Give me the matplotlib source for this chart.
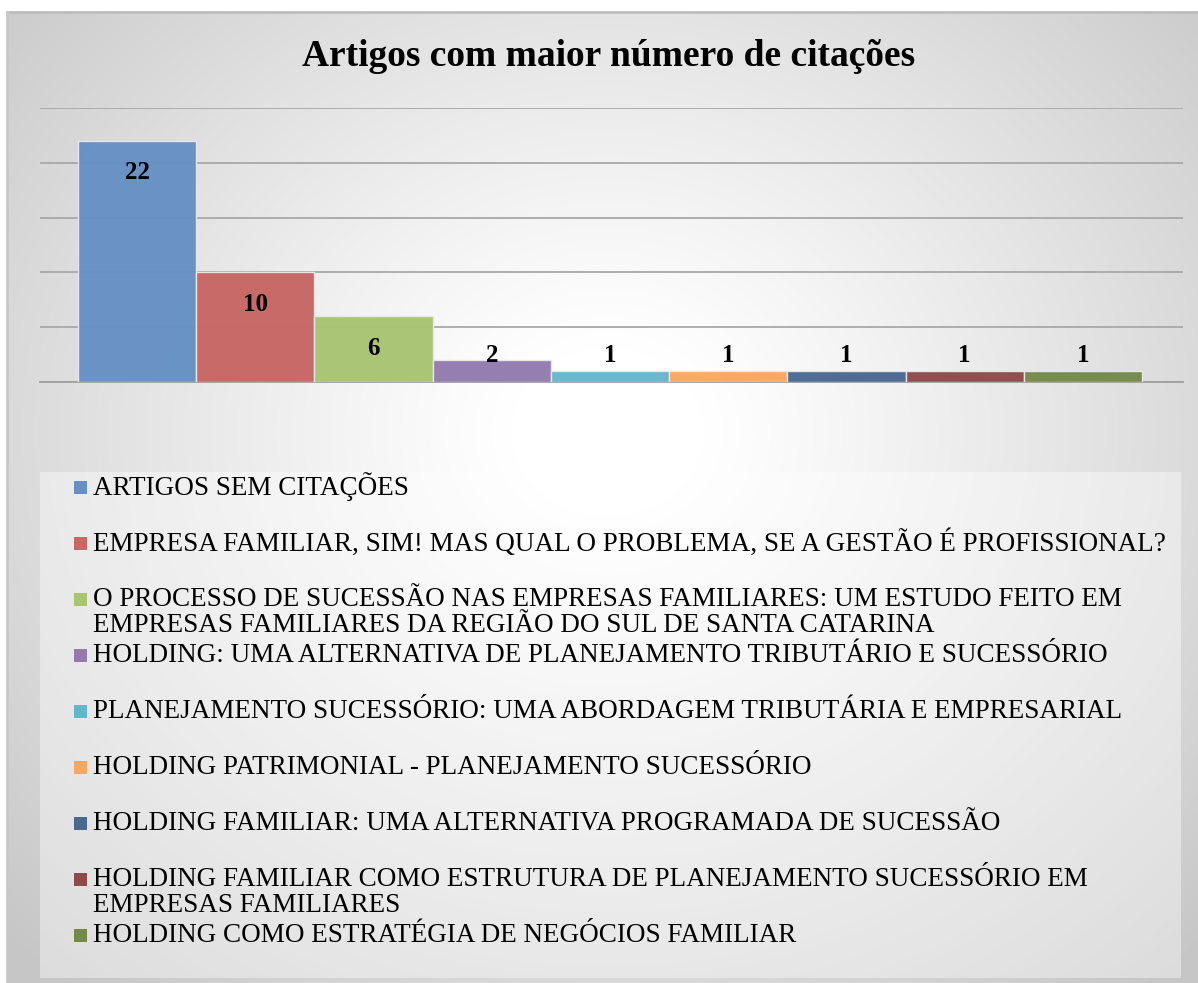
import numpy as np
import matplotlib
matplotlib.use("Agg")
import matplotlib.pyplot as plt
from matplotlib.patches import Rectangle

title = "Artigos com maior número de citações"
series = [
    "ARTIGOS SEM CITAÇÕES",
    "EMPRESA FAMILIAR, SIM! MAS QUAL O PROBLEMA, SE A GESTÃO É PROFISSIONAL?",
    "O PROCESSO DE SUCESSÃO NAS EMPRESAS FAMILIARES: UM ESTUDO FEITO EM\nEMPRESAS FAMILIARES DA REGIÃO DO SUL DE SANTA CATARINA",
    "HOLDING: UMA ALTERNATIVA DE PLANEJAMENTO TRIBUTÁRIO E SUCESSÓRIO",
    "PLANEJAMENTO SUCESSÓRIO: UMA ABORDAGEM TRIBUTÁRIA E EMPRESARIAL",
    "HOLDING PATRIMONIAL - PLANEJAMENTO SUCESSÓRIO",
    "HOLDING FAMILIAR: UMA ALTERNATIVA PROGRAMADA DE SUCESSÃO",
    "HOLDING FAMILIAR COMO ESTRUTURA DE PLANEJAMENTO SUCESSÓRIO EM\nEMPRESAS FAMILIARES",
    "HOLDING COMO ESTRATÉGIA DE NEGÓCIOS FAMILIAR",
]
values = [22, 10, 6, 2, 1, 1, 1, 1, 1]
colors = ["#6690C4", "#C76663", "#A9C473", "#927AAE", "#65B6CD",
          "#F8A762", "#4A6890", "#8E4A4A", "#748A49"]

W, H = 1198, 983
fig = plt.figure(figsize=(W / 100, H / 100), dpi=100)
fig.patch.set_facecolor("white")

def fx(px):
    return px / W

def fy(py):
    return 1 - py / H

# background radial gradient (chart area)
bg = fig.add_axes([fx(7), 0, 1 - fx(7), fy(12)], zorder=0)
yy, xx = np.mgrid[0:971, 0:1191]
cx, cy = 600, 420
r = np.sqrt(((xx - cx) / 640.0) ** 2 + ((yy - cy) / 560.0) ** 2)
val = 1.0 - 0.2 * np.clip((r - 0.15) / 1.05, 0, 1.1) ** 1.1
img = np.dstack([val, val, val])
bg.imshow(img, aspect="auto", extent=[0, 1, 0, 1], origin="upper", interpolation="bilinear")
bg.set_xlim(0, 1); bg.set_ylim(0, 1)
bg.axis("off")
bg.plot([0, 1], [1, 1], color="#bdbdbd", lw=2, transform=bg.transAxes, clip_on=False)
bg.plot([0, 0], [0, 1], color="#c8c8c8", lw=2, transform=bg.transAxes, clip_on=False)

# plot area
ax = fig.add_axes([fx(40), fy(382), fx(1183) - fx(40), fy(108) - fy(382)], zorder=2)
ax.patch.set_alpha(0)
n = len(values)
x = np.arange(n)
ax.bar(x, values, width=1.0, color=colors, edgecolor="#e8e8e8", linewidth=1.0, zorder=3, alpha=0.97)
ax.set_xlim(-0.5 - 38 / 118.2, n - 0.5 + 41 / 118.2)
ax.set_ylim(0, 25)
ax.set_yticks([0, 5, 10, 15, 20, 25])
ax.yaxis.grid(True, color="#a8a8a8", linewidth=1.3, zorder=1)
ax.set_axisbelow(True)
ax.tick_params(left=False, bottom=False, labelleft=False, labelbottom=False)
for s in ["top", "right", "left"]:
    ax.spines[s].set_visible(False)
ax.spines["bottom"].set_color("#a0a0a0")
ax.spines["bottom"].set_linewidth(1.3)

for xi, v in zip(x, values):
    ax.text(xi, max(v - 2.9, 2.4), str(v), ha="center", va="center",
            fontsize=18, fontweight="bold", family="Liberation Serif", color="black", zorder=5)

fig.text(fx(609), fy(57), title, ha="center", va="center", fontsize=27,
         fontweight="bold", family="Liberation Serif", color="black")

# legend box
fig.patches.append(Rectangle((fx(40), fy(978)), fx(1181) - fx(40), fy(472) - fy(978),
                             transform=fig.transFigure, facecolor="white", alpha=0.4,
                             edgecolor="none", zorder=1))

y0, step, line_h = 487, 56, 27
for i, (lab, col) in enumerate(zip(series, colors)):
    yc = y0 + step * i
    fig.patches.append(Rectangle((fx(74), fy(yc + 6.5)), fx(13), (13 / H),
                                 transform=fig.transFigure, facecolor=col,
                                 edgecolor="none", zorder=3))
    for j, line in enumerate(lab.split("\n")):
        fig.text(fx(93), fy(yc + j * line_h), line, ha="left", va="center",
                 fontsize=19.5, family="Liberation Serif", color="black", zorder=4)

fig.savefig("out.png", dpi=100)
